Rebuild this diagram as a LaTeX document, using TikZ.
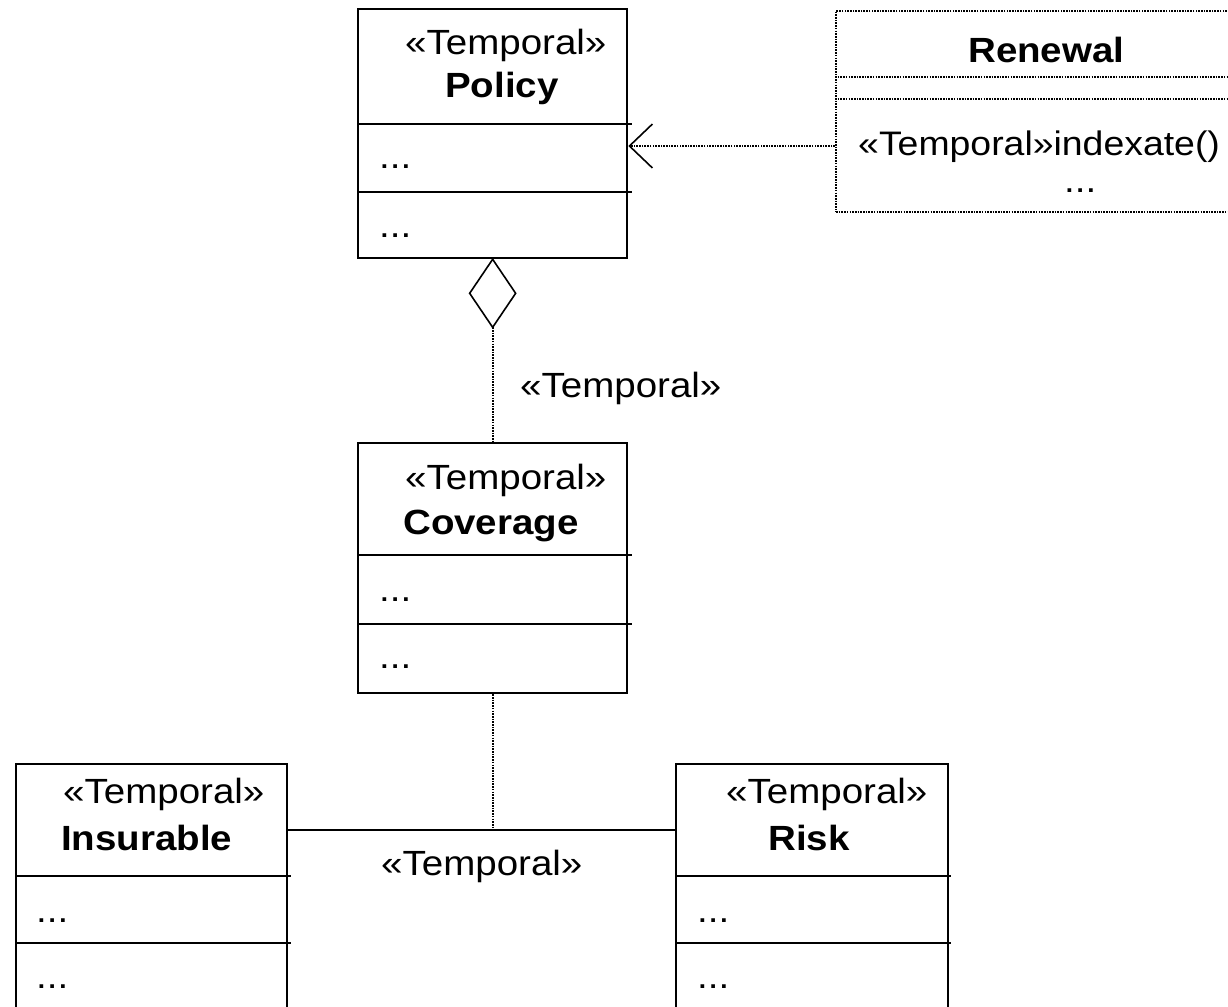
\documentclass[tikz,border=0pt]{standalone}
\usepackage{fontspec}
\setmainfont{Liberation Sans}[FakeStretch=1.1]
\usetikzlibrary{arrows.meta,shapes.geometric}

\newcommand\umlfont{\fontsize{35}{42}\selectfont}
\newcommand\umlopfont{\fontsize{34}{41}\selectfont}

\tikzset{
  x=1pt, y=-1pt,
  classbox/.style={draw, rectangle, line width=2.3pt, inner sep=0pt, anchor=north west},
  dotbox/.style={classbox, line width=2pt, dash pattern=on 1.6pt off 1.1pt},
  sepline/.style={line width=2.3pt},
  dotsep/.style={line width=2pt, dash pattern=on 1.6pt off 1.1pt},
  dotline/.style={line width=2pt, dash pattern=on 1.6pt off 1.1pt},
  assoc/.style={line width=2.3pt},
  txt/.style={inner sep=0pt, anchor=base west, font=\umlfont},
  bold/.style={txt, font=\umlfont\bfseries},
}

\begin{document}
\begin{tikzpicture}
\useasboundingbox (0,0) rectangle (1228,1006);
\clip (0,0) rectangle (1228,1006);

% class boxes
\node[classbox, minimum width=269pt, minimum height=249pt] (pol) at (357,8) {};
\node[classbox, minimum width=269pt, minimum height=250pt] (cov) at (357,442) {};
\node[classbox, minimum width=271pt, minimum height=260pt] (ins) at (15,763) {};
\node[classbox, minimum width=272pt, minimum height=260pt] (risk) at (675,763) {};
\node[dotbox, minimum width=400pt, minimum height=201pt] (ren) at (835,10) {};

% compartment separators
\draw[sepline] (357,124) -- (632,124);
\draw[sepline] (357,192) -- (632,192);
\draw[sepline] (357,555) -- (632,555);
\draw[sepline] (357,624) -- (632,624);
\draw[sepline] (15,876) -- (291,876);
\draw[sepline] (15,943) -- (291,943);
\draw[sepline] (675,876) -- (951,876);
\draw[sepline] (675,943) -- (951,943);
\draw[dotsep] (835,77) -- (1235,77);
\draw[dotsep] (835,99) -- (1235,99);

% class texts
\node[txt]  (polst)  at (405,55)  {«Temporal»};
\node[bold] (polnm)  at (445,98)  {Policy};
\node[txt]  (pola)   at (379,168) {...};
\node[txt]  (polo)   at (379,237) {...};

\node[txt]  (covst)  at (405,489) {«Temporal»};
\node[bold] (covnm)  at (403,534) {Coverage};
\node[txt]  (cova)   at (379,601) {...};
\node[txt]  (covo)   at (379,668) {...};

\node[txt]  (insst)  at (63,803)  {«Temporal»};
\node[bold] (insnm)  at (61,850)  {Insurable};
\node[txt]  (insa)   at (36,922)  {...};
\node[txt]  (inso)   at (36,988)  {...};

\node[txt]  (riskst) at (726,803) {«Temporal»};
\node[bold] (risknm) at (768,850) {Risk};
\node[txt]  (riska)  at (697,922) {...};
\node[txt]  (risko)  at (697,988) {...};

\node[bold] (rennm)  at (968,63)  {Renewal};
\node[txt, font=\umlopfont] (renop) at (858,155) {«Temporal»indexate()};
\node[txt]  (reno)   at (1064,192) {...};

% dependency Renewal -> Policy
\draw[dotline, -{Straight Barb[length=23pt, width=44pt, line width=1.6pt]}]
  (ren.west |- 0,146) -- (pol.east |- 0,146);

% aggregation Policy <>-- Coverage
\node[draw, diamond, line width=1.6pt, inner sep=0pt, outer sep=0pt,
      minimum width=46pt, minimum height=68pt, anchor=north] (agg) at (pol.south) {};
\draw[dotline] (agg.south) -- (cov.north);
\node[txt] (agglbl) at (520,397) {«Temporal»};

% association Insurable -- Risk, with association class Coverage
\draw[assoc] (ins.east |- 0,830) -- (risk.west |- 0,830);
\coordinate (jn) at (cov.south |- 0,830);
\draw[dotline] (cov.south) -- (jn);
\node[txt] (asslbl) at (381,875) {«Temporal»};
\end{tikzpicture}
\end{document}
